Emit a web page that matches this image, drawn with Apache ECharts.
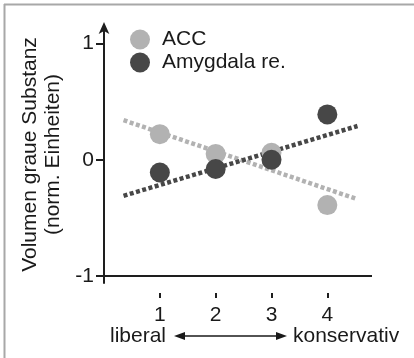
<!DOCTYPE html>
<html>
<head>
<meta charset="utf-8">
<script src="https://cdn.jsdelivr.net/npm/echarts@6/dist/echarts.min.js"></script>
<style>html,body{margin:0;padding:0;background:#fff;}#c{width:414px;height:358px;}</style>
</head>
<body>
<div id="c"></div>
<script>
const categories = [1, 2, 3, 4];
const accValues = [0.22, 0.05, 0.06, -0.39];
const amyValues = [-0.11, -0.08, 0.0, 0.39];
const accTrend = [[0.35, 0.34], [4.54, -0.34]];
const amyTrend = [[0.35, -0.31], [4.54, 0.29]];
const yTicks = [-1, 0, 1];
const xTicks = [1, 2, 3, 4];
const seriesNames = ['ACC', 'Amygdala re.'];
const yTitle = 'Volumen graue Substanz\n(norm. Einheiten)';
const leftLabel = 'liberal';
const rightLabel = 'konservativ';

const FONT = '"Liberation Sans", Arial, sans-serif';
const ACC_C = '#b2b2b2';
const AMY_C = '#474747';
const AX = '#1e1e1e';

const chart = echarts.init(document.getElementById('c'));
chart.setOption({
  animation: false,
  backgroundColor: '#fff',
  textStyle: { fontFamily: FONT },
  grid: { left: 104, right: 42, top: 26, bottom: 75 },
  legend: {
    data: seriesNames,
    orient: 'vertical',
    left: 125, top: 24,
    itemWidth: 20, itemHeight: 20, itemGap: 2,
    icon: 'circle',
    textStyle: { fontSize: 21, color: '#1a1a1a', fontFamily: FONT, padding: [0, 0, 0, 7] }
  },
  xAxis: {
    type: 'value', min: 0, max: 4.8, interval: 1,
    offset: 10,
    axisLine: { show: false, onZero: false },
    axisTick: { show: true, length: 5, lineStyle: { color: AX, width: 2 }, customValues: xTicks },
    axisLabel: { fontSize: 21, color: '#1a1a1a', margin: 12, fontFamily: FONT, customValues: xTicks },
    splitLine: { show: false }
  },
  yAxis: {
    type: 'value', min: -1.06, max: 1.15,
    name: yTitle, nameLocation: 'middle', nameGap: 39, nameRotate: 90,
    nameTextStyle: { fontSize: 21, color: '#1a1a1a', lineHeight: 23, fontFamily: FONT },
    axisLine: { show: true, lineStyle: { color: AX, width: 2 }, symbol: ['none', 'arrow'], symbolSize: [8, 12], symbolOffset: [0, 4] },
    axisTick: { show: true, length: 8, lineStyle: { color: AX, width: 2 }, customValues: yTicks },
    axisLabel: { fontSize: 21, color: '#1a1a1a', margin: 10, fontFamily: FONT, customValues: yTicks },
    splitLine: { show: false }
  },
  series: [
    {
      name: 'ACC trend', type: 'line', data: accTrend, showSymbol: false, symbol: 'none', z: 2,
      lineStyle: { color: ACC_C, width: 4.5, type: [4, 2.5] },
      markLine: {
        silent: true, symbol: 'none', label: { show: false },
        lineStyle: { color: AX, width: 2, type: 'solid' },
        data: [{ yAxis: -1 }]
      }
    },
    {
      name: 'Amygdala trend', type: 'line', data: amyTrend, showSymbol: false, symbol: 'none', z: 3,
      lineStyle: { color: AMY_C, width: 4.5, type: [4, 2.5] }
    },
    {
      name: seriesNames[0], type: 'scatter', symbolSize: 20, z: 4,
      itemStyle: { color: ACC_C, opacity: 1 },
      data: categories.map((c, i) => [c, accValues[i]])
    },
    {
      name: seriesNames[1], type: 'scatter', symbolSize: 20, z: 5,
      itemStyle: { color: AMY_C, opacity: 1 },
      data: categories.map((c, i) => [c, amyValues[i]])
    }
  ],
  graphic: [
    { type: 'line', shape: { x1: 4, y1: 4.5, x2: 414, y2: 4.5 }, style: { stroke: '#a8a8a8', lineWidth: 2 }, silent: true },
    { type: 'line', shape: { x1: 4.5, y1: 4, x2: 4.5, y2: 358 }, style: { stroke: '#a8a8a8', lineWidth: 2 }, silent: true },
    { type: 'text', x: 110, y: 336, style: { text: leftLabel, font: '21px ' + FONT, fill: '#1a1a1a', textVerticalAlign: 'middle', verticalAlign: 'middle' } },
    { type: 'text', x: 293, y: 336, style: { text: rightLabel, font: '21px ' + FONT, fill: '#1a1a1a', textVerticalAlign: 'middle', verticalAlign: 'middle' } },
    { type: 'line', shape: { x1: 180, y1: 336, x2: 281, y2: 336 }, style: { stroke: '#1a1a1a', lineWidth: 1.5 } },
    { type: 'polygon', shape: { points: [[174, 336], [185, 332], [185, 340]] }, style: { fill: '#1a1a1a' } },
    { type: 'polygon', shape: { points: [[287, 336], [276, 332], [276, 340]] }, style: { fill: '#1a1a1a' } }
  ]
});
</script>
</body>
</html>
